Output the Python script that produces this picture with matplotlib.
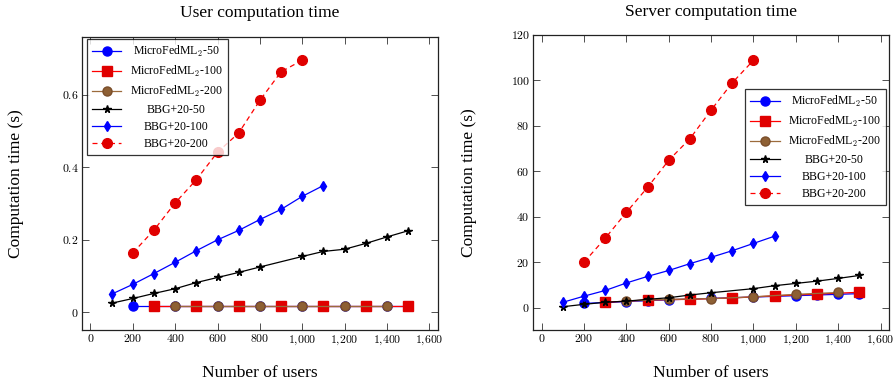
import numpy as np
import matplotlib
matplotlib.use("Agg")
import matplotlib.pyplot as plt

plt.rcParams['font.family'] = ['Liberation Serif', 'DejaVu Serif']
plt.rcParams['mathtext.fontset'] = 'cm'

# ---- data ----
users_m50 = list(range(200, 1501, 100))
users_m100 = list(range(300, 1501, 200))
users_m200 = list(range(400, 1401, 200))
users_b50 = [100, 200, 300, 400, 500, 600, 700, 800, 1000, 1100, 1200, 1300, 1400, 1500]
users_b100 = list(range(100, 1101, 100))
users_b200 = list(range(200, 1001, 100))

user_m50 = [0.017] * 14
user_m100 = [0.017] * 7
user_m200 = [0.017] * 6
user_b50 = [0.025, 0.038, 0.052, 0.065, 0.082, 0.096, 0.110, 0.125,
            0.154, 0.168, 0.174, 0.190, 0.208, 0.225]
user_b100 = [0.050, 0.077, 0.107, 0.138, 0.170, 0.200, 0.226, 0.256, 0.284, 0.320, 0.350]
user_b200 = [0.164, 0.227, 0.302, 0.366, 0.442, 0.495, 0.585, 0.664, 0.696]

server_m50 = [1.9, 2.3, 2.7, 3.1, 3.5, 3.8, 4.1, 4.4, 4.7, 5.0, 5.3, 5.6, 5.9, 6.2]
server_m100 = [2.4, 3.4, 3.7, 4.3, 5.2, 6.0, 6.8]
server_m200 = [2.9, 3.7, 4.0, 4.8, 5.9, 6.7]
server_b50 = [0.45, 1.5, 2.4, 2.9, 3.7, 4.4, 5.6, 6.6, 8.4, 9.7, 10.7, 11.7, 12.9, 14.2]
server_b100 = [2.4, 5.1, 7.6, 10.9, 13.8, 16.4, 19.4, 22.2, 25.1, 28.3, 31.5]
server_b200 = [20.1, 30.6, 42.0, 53.0, 64.9, 74.4, 87.0, 99.0, 108.9]

labels = [r'MicroFedML$_2$-50', r'MicroFedML$_2$-100', r'MicroFedML$_2$-200',
          'BBG+20-50', 'BBG+20-100', 'BBG+20-200']
xticks = [0, 200, 400, 600, 800, 1000, 1200, 1400, 1600]
xtick_labels = [r'$%s$' % ('{:,}'.format(v).replace(',', '{,}')) for v in xticks]

brown = '#9C6B3C'


def draw(ax, ys):
    m50, m100, m200, b50, b100, b200 = ys
    ax.plot(users_m50, m50, color='blue', lw=0.9, marker='o', ms=6.5, mec='blue', mfc='blue')
    ax.plot(users_m100, m100, color='red', lw=0.9, marker='s', ms=6.5, mec='#E00000', mfc='#E00000')
    ax.plot(users_m200, m200, color=brown, lw=0.9, marker='o', ms=6.5, mec='#7A4E2A', mfc='#8E6034')
    ax.plot(users_b50, b50, color='black', lw=0.9, marker='*', ms=5.5)
    ax.plot(users_b100, b100, color='blue', lw=0.9, marker='d', ms=5.5)
    ax.plot(users_b200, b200, color='red', lw=0.9, ls=(0, (4, 3)), marker='o', ms=7,
            mec='#E00000', mfc='#E00000')
    ax.set_xlim(-40, 1640)
    ax.set_xticks(xticks)
    ax.set_xticklabels(xtick_labels)
    ax.tick_params(direction='in', length=5, width=0.6, top=True, right=True,
                   labelsize=8.5, pad=2.5, colors='#333333', labelcolor='black')
    for s in ax.spines.values():
        s.set_linewidth(0.9)
        s.set_color('#222222')


def center_legend_texts(fig, leg):
    fig.canvas.draw()
    r = fig.canvas.get_renderer()
    texts = leg.get_texts()
    ws = [t.get_window_extent(r).width for t in texts]
    wmax = max(ws)
    for t, w in zip(texts, ws):
        t.set_position(((wmax - w) / 2, 0))


fig = plt.figure(figsize=(8.94, 3.85), dpi=100)
ax1 = fig.add_axes([82 / 894, 1 - 330 / 385, 355.7 / 894, 293.3 / 385])
ax2 = fig.add_axes([533.3 / 894, 1 - 330 / 385, 355.7 / 894, 295 / 385])

draw(ax1, [user_m50, user_m100, user_m200, user_b50, user_b100, user_b200])
ax1.set_ylim(-0.049, 0.761)
ax1.set_yticks([0, 0.2, 0.4, 0.6])
ax1.set_yticklabels([r'$0$', r'$0.2$', r'$0.4$', r'$0.6$'])

draw(ax2, [server_m50, server_m100, server_m200, server_b50, server_b100, server_b200])
ax2.set_ylim(-9.8, 120)
ax2.set_yticks([0, 20, 40, 60, 80, 100, 120])
ax2.set_yticklabels([r'$%d$' % v for v in [0, 20, 40, 60, 80, 100, 120]])

for ax, title in [(ax1, 'User computation time'), (ax2, 'Server computation time')]:
    ax.set_title(title, fontsize=12.5, pad=14)
    ax.set_xlabel('Number of users', fontsize=12.5)
    ax.set_ylabel('Computation time (s)', fontsize=12.5)
    ax.xaxis.set_label_coords(0.5, -0.118)
ax1.yaxis.set_label_coords(-0.162, 0.5)
ax2.yaxis.set_label_coords(-0.157, 0.5)

legs = []
for ax, anchor, loc in [(ax1, (0.013, 0.992), 'upper left'), (ax2, (0.9916, 0.817), 'upper right')]:
    leg = ax.legend(ax.get_lines(), labels, loc=loc, bbox_to_anchor=anchor, borderaxespad=0,
                    fontsize=8.5, frameon=True, fancybox=False, edgecolor='black',
                    handlelength=2.5, labelspacing=0.42, handletextpad=0.7, borderpad=0.45)
    leg.get_frame().set_linewidth(0.9)
    legs.append(leg)

for leg in legs:
    center_legend_texts(fig, leg)

fig.savefig('out.png', dpi=100)
